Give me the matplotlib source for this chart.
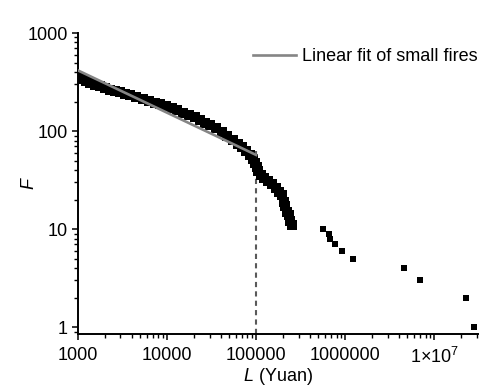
import numpy as np
import matplotlib
matplotlib.use("Agg")
import matplotlib.pyplot as plt

plt.rcParams['font.family'] = ['Liberation Sans', 'DejaVu Sans']
plt.rcParams['mathtext.fontset'] = 'custom'
plt.rcParams['mathtext.rm'] = 'Liberation Sans'
plt.rcParams['mathtext.it'] = 'Liberation Sans:italic'

# loss L (Yuan) and rank F
# dense part (many fires, points overlap into a band)
L_dense = [1000, 1109, 1230, 1365, 1552, 1766, 2010, 2290, 2604, 2965,
           3375, 3840, 4485, 5375, 6280, 7330, 8340, 9750, 11380, 12950,
           15130, 17660, 20640, 23500, 26750, 30430, 35550, 41500, 47240, 55200,
           62800, 69600, 77300, 85800, 92500, 97500, 102600, 105200, 113700, 123000,
           136400, 151300, 167800, 181300, 195900, 206500, 211900, 222900, 234800, 241000,
           253700]
F_dense = [352, 336, 321, 312, 298, 285, 272, 264, 255, 248,
           239, 233, 224, 214, 204, 194, 187, 178, 170, 162,
           153, 145, 138, 129, 122, 115, 107, 98, 90, 81,
           74, 69, 63, 57, 52, 47, 43, 39, 36, 33,
           31, 29, 26, 24, 22, 19, 17, 15, 14, 12,
           11]
# large fires (isolated points)
L_tail = [570000, 650000, 680000, 760000, 920000, 1210000,
          4600000, 6840000, 22700000, 27900000]
F_tail = [10, 9, 8, 7, 6, 5, 4, 3, 2, 1]

# linear fit (log-log) of the small fires, end points
L_fit = [1000, 100000]
F_fit = [415, 57]

# cut-off line
L_cut = 100000
F_cut_top = 62

xticks = [1e3, 1e4, 1e5, 1e6, 1e7]
xticklabels = ['1000', '10000', '100000', '1000000', '1×10$^{7}$']
yticks = [1, 10, 100, 1000]
yticklabels = ['1', '10', '100', '1000']

fig = plt.figure(figsize=(4.9, 3.89), dpi=100)
ax = fig.add_axes([78/490, 55/389, 400/490, 301/389])

ax.plot(L_dense, F_dense, linestyle='none', marker='s', ms=6.5, mew=0, color='black', zorder=2)
ax.plot(L_tail, F_tail, linestyle='none', marker='s', ms=5, mew=0, color='black', zorder=2)
ax.plot(L_fit, F_fit, color='#858585', lw=1.9, zorder=3, label='Linear fit of small fires')
ax.plot([L_cut, L_cut], [0.85, F_cut_top], color='#5a5a5a', lw=1.5,
        linestyle=(0, (2.5, 2)), zorder=1)

ax.set_xscale('log')
ax.set_yscale('log')
ax.set_xlim(1000, 3.1e7)
ax.set_ylim(0.85, 1000)

ax.set_xticks(xticks)
ax.set_xticklabels(xticklabels)
ax.set_yticks(yticks)
ax.set_yticklabels(yticklabels)

for s in ['top', 'right']:
    ax.spines[s].set_visible(False)
for s in ['left', 'bottom']:
    ax.spines[s].set_linewidth(1.4)

ax.tick_params(which='major', length=4.5, width=1.1, labelsize=13, pad=3)
ax.tick_params(which='minor', length=3, width=1.0)
ax.tick_params(axis='x', which='major', pad=5)

ax.set_xlabel('$L$ (Yuan)', fontsize=13)
ax.set_ylabel('$F$', fontsize=13)
ax.xaxis.set_label_coords(0.5, -0.105)
ax.yaxis.set_label_coords(-0.10, 0.5)

ax.legend(loc='upper right', bbox_to_anchor=(1.0, 0.95), frameon=False,
          fontsize=13, handlelength=2.4, handletextpad=0.35,
          borderaxespad=0, borderpad=0)

plt.savefig('out.png', dpi=100)
